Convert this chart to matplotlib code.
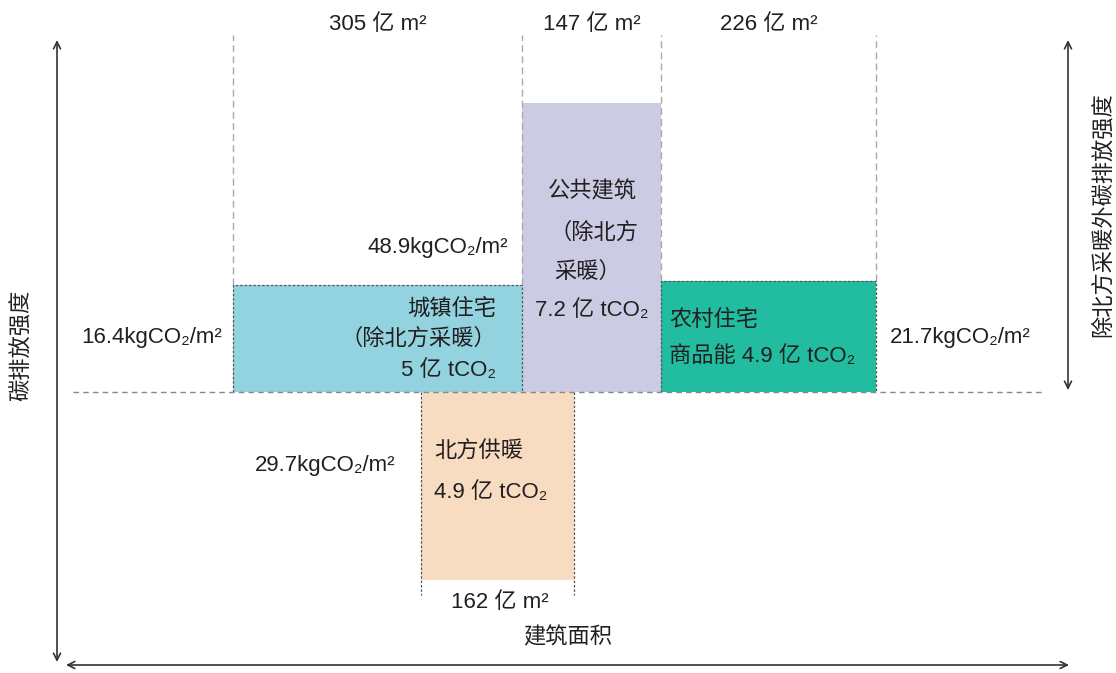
import matplotlib
matplotlib.use('Agg')
import matplotlib.pyplot as plt
from matplotlib.patches import Rectangle

plt.rcParams['font.family'] = ['Liberation Sans', 'DejaVu Sans', 'Noto Sans CJK SC']

# building area (亿 m2), drawn as box widths
sectors = ['城镇住宅', '公共建筑', '农村住宅', '北方供暖']
areas = [305, 147, 226, 162]
box_starts = [0, 305, 452, 198]
# carbon intensity (kgCO2/m2) and box heights as drawn (schematic, not to scale)
intensities = [16.4, 48.9, 21.7, 29.7]
box_heights = [17.8, 48.2, 18.5, -31.3]
emissions = [5, 7.2, 4.9, 4.9]
colors = ['#92D3DF', '#CBCBE3', '#22BCA0', '#F8DCC2']
area_labels = ['305 亿 m²', '147 亿 m²', '226 亿 m²', '162 亿 m²']

W, H = 1116, 673
fig = plt.figure(figsize=(W / 100, H / 100), dpi=100)
ax = fig.add_axes([0, 0, 1, 1])
ax.set_xlim(-233 / 0.948, (W - 233) / 0.948)
ax.set_ylim(-(H - 392) / 6, 392 / 6)
ax.axis('off')


def P(x, y):
    # pixel position -> figure fraction (for labels and arrows only)
    return x / W, 1 - y / H


txt = '#231F20'
fs = 16
dot = dict(color='#555555', lw=0.9, ls=(0, (2, 1.5)))
dash = dict(color='#AAAAAA', lw=1.0, ls=(0, (5, 3)))
top = (392 - 35) / 6

# boxes
for i in range(4):
    ax.add_patch(Rectangle((box_starts[i], 0), areas[i], box_heights[i],
                           facecolor=colors[i], edgecolor='none', zorder=1))

# guide lines above the top row of boxes
guides = [(0, box_heights[0]), (305, box_heights[0]), (452, box_heights[2]), (678, box_heights[2])]
for gx, gy in guides:
    ax.plot([gx, gx], [gy, top], zorder=2, **dash)

# dotted outlines
for i in [0, 2]:
    x0, x1, h = box_starts[i], box_starts[i] + areas[i], box_heights[i]
    ax.plot([x0, x0, x1, x1], [0, h, h, 0], zorder=3, **dot)
nx0, nx1 = box_starts[3], box_starts[3] + areas[3]
ax.plot([nx0, nx0], [0, -33.8], zorder=3, **dot)
ax.plot([nx1, nx1], [0, -33.8], zorder=3, **dot)

# baseline
ax.plot([(73 - 233) / 0.948, (1045 - 233) / 0.948], [0, 0], zorder=3,
        color='#888888', lw=1.0, ls=(0, (4, 3)))

# area labels
for i in range(3):
    ax.text(box_starts[i] + areas[i] / 2, (392 - 25) / 6, area_labels[i],
            ha='center', va='center', fontsize=fs, color=txt)
ax.text(nx0 + areas[3] / 2 + 2, -(603 - 392) / 6, area_labels[3],
        ha='center', va='center', fontsize=fs, color=txt)


def inten(v):
    return f'{v}kgCO₂/m²'


def tco2(v):
    return f'{v} 亿 tCO₂'


# intensity labels
fig.text(*P(222, 338), inten(intensities[0]), ha='right', va='center', fontsize=fs, color=txt)
fig.text(*P(508, 247), inten(intensities[1]), ha='right', va='center', fontsize=fs, color=txt)
fig.text(*P(890, 338), inten(intensities[2]), ha='left', va='center', fontsize=fs, color=txt)
fig.text(*P(395, 466), inten(intensities[3]), ha='right', va='center', fontsize=fs, color=txt)

# sector texts
fig.text(*P(496, 309), sectors[0], ha='right', va='center', fontsize=fs, color=txt)
fig.text(*P(496, 339), '（除北方采暖）', ha='right', va='center', fontsize=fs, color=txt)
fig.text(*P(496, 370), tco2(emissions[0]), ha='right', va='center', fontsize=fs, color=txt)

fig.text(*P(592, 192), sectors[1], ha='center', va='center', fontsize=fs, color=txt)
fig.text(*P(594, 233), '（除北方', ha='center', va='center', fontsize=fs, color=txt)
fig.text(*P(588, 272), '采暖）', ha='center', va='center', fontsize=fs, color=txt)
fig.text(*P(592, 311), tco2(emissions[1]), ha='center', va='center', fontsize=fs, color=txt)

fig.text(*P(669, 320), sectors[2], ha='left', va='center', fontsize=fs, color=txt)
fig.text(*P(669, 357), '商品能 ' + tco2(emissions[2]), ha='left', va='center', fontsize=fs, color=txt)

fig.text(*P(434, 452), sectors[3], ha='left', va='center', fontsize=fs, color=txt)
fig.text(*P(434, 492), tco2(emissions[3]), ha='left', va='center', fontsize=fs, color=txt)

# axis titles
fig.text(*P(568, 638), '建筑面积', ha='center', va='center', fontsize=fs, color=txt)
fig.text(*P(22, 345), '碳排放强度', ha='center', va='center', rotation=90, fontsize=fs, color=txt)
fig.text(*P(1103, 215), '除北方采暖外碳排放强度', ha='center', va='center', rotation=90,
         fontsize=fs, color=txt)

# arrows
arrow = dict(arrowstyle='<->,head_length=0.5,head_width=0.25', color='#333333', lw=1.2,
             shrinkA=0, shrinkB=0)
ax.annotate('', xy=P(57, 40), xytext=P(57, 662), xycoords='figure fraction',
            textcoords='figure fraction', arrowprops=arrow)
ax.annotate('', xy=P(66, 665), xytext=P(1069, 665), xycoords='figure fraction',
            textcoords='figure fraction', arrowprops=arrow)
ax.annotate('', xy=P(1068, 40), xytext=P(1068, 390), xycoords='figure fraction',
            textcoords='figure fraction', arrowprops=arrow)

plt.savefig('out.png', dpi=100)
